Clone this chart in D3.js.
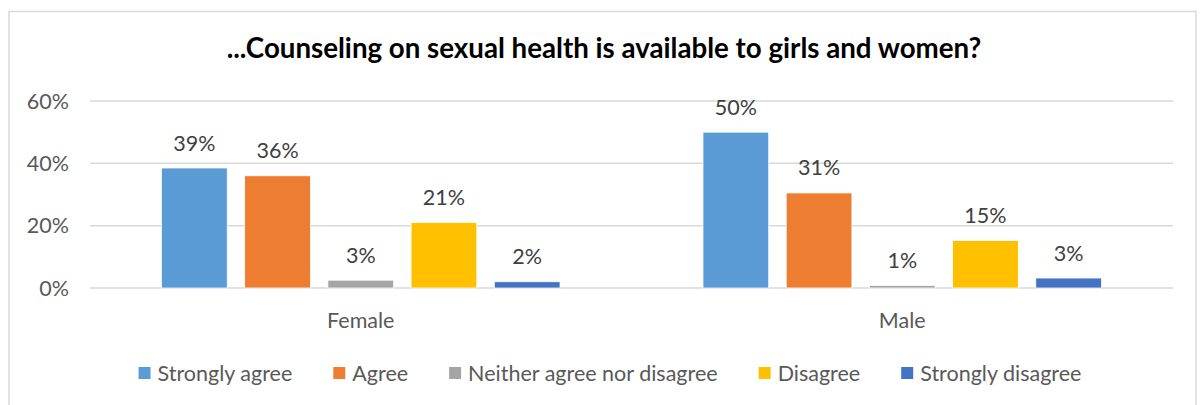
<!DOCTYPE html>
<html>
<head>
<meta charset="utf-8">
<script src="https://cdn.jsdelivr.net/npm/d3@7"></script>
<style>
  html, body { margin: 0; padding: 0; background: #fff; }
  svg { display: block; }
</style>
</head>
<body>
<div id="chart"></div>
<script>
// data
const groups = ['Female', 'Male'];
const answers = ['Strongly agree', 'Agree', 'Neither agree nor disagree', 'Disagree', 'Strongly disagree'];
const female = [0.385, 0.36, 0.025, 0.21, 0.02];
const male = [0.50, 0.305, 0.008, 0.152, 0.032];
const femaleLabels = ['39%', '36%', '3%', '21%', '2%'];
const maleLabels = ['50%', '31%', '1%', '15%', '3%'];
const yTicks = [0, 0.2, 0.4, 0.6];
const colors = ['#5B9BD5', '#ED7D31', '#A5A5A5', '#FFC000', '#4472C4'];
const title = '...Counseling on sexual health is available to girls and women?';

const W = 1203, H = 405;
const font = 'Lato, "Open Sans", sans-serif';
const textCol = '#595959';
const fs = 21.5;

const svg = d3.select('#chart').append('svg')
  .attr('width', W).attr('height', H)
  .style('font-family', font);

// frame
svg.append('rect')
  .attr('x', 9).attr('y', 11.5).attr('width', 1187).attr('height', 420)
  .attr('fill', '#fff').attr('stroke', '#d9d9d9').attr('stroke-width', 1.5);

// title, sized to the reference width
const t = svg.append('text')
  .attr('x', 604).attr('y', 58)
  .attr('text-anchor', 'middle')
  .attr('font-weight', 'bold')
  .attr('font-size', 20)
  .attr('fill', '#000')
  .text(title);
const tw = t.node().getComputedTextLength();
t.attr('font-size', 20 * 755 / tw);

const x0 = d3.scaleBand().domain(groups).range([90, 1173]);
const x1 = d3.scaleBand().domain(answers).range([-208, 208]).paddingInner(0.21).paddingOuter(0.105);
const y = d3.scaleLinear().domain([0, 0.6]).range([288, 101]);

// gridlines
svg.append('g').selectAll('line').data(yTicks).join('line')
  .attr('x1', 90).attr('x2', 1173)
  .attr('y1', d => y(d)).attr('y2', d => y(d))
  .attr('stroke', '#d9d9d9').attr('stroke-width', 1.5);

// y labels
svg.append('g').selectAll('text').data(yTicks).join('text')
  .attr('x', 69).attr('y', d => y(d))
  .attr('dy', '0.35em')
  .attr('text-anchor', 'end')
  .attr('font-size', fs)
  .attr('fill', textCol)
  .text(d3.format('.0%'));

const series = [
  { g: 'Female', values: female, labels: femaleLabels },
  { g: 'Male', values: male, labels: maleLabels },
];

series.forEach((s) => {
  const cx = x0(s.g) + x0.bandwidth() / 2;
  const g = svg.append('g').attr('transform', `translate(${cx},0)`);
  g.selectAll('rect').data(s.values).join('rect')
    .attr('x', (d, i) => x1(answers[i]))
    .attr('width', x1.bandwidth())
    .attr('y', d => y(d))
    .attr('height', d => y(0) - y(d))
    .attr('fill', (d, i) => colors[i])
    .attr('stroke', '#fff').attr('stroke-width', 0.75);
  g.selectAll('text').data(s.values).join('text')
    .attr('x', (d, i) => x1(answers[i]) + x1.bandwidth() / 2)
    .attr('y', d => y(d) - 17.5)
    .attr('text-anchor', 'middle')
    .attr('font-size', fs)
    .attr('fill', '#404040')
    .text((d, i) => s.labels[i]);
  svg.append('text')
    .attr('x', cx).attr('y', 328)
    .attr('text-anchor', 'middle')
    .attr('font-size', fs)
    .attr('fill', textCol)
    .text(s.g);
});

// legend
const leg = svg.append('g');
let lx = 0;
answers.forEach((a, i) => {
  const it = leg.append('g').attr('transform', `translate(${lx},0)`);
  it.append('rect').attr('x', 0).attr('y', -14).attr('width', 12).attr('height', 12).attr('fill', colors[i]);
  const tx = it.append('text').attr('x', 19).attr('y', 0)
    .attr('font-size', fs).attr('fill', textCol).text(a);
  lx += 19 + tx.node().getComputedTextLength() + 41;
});
lx -= 41;
leg.attr('transform', `translate(${610 - lx / 2},381)`);
</script>
</body>
</html>
